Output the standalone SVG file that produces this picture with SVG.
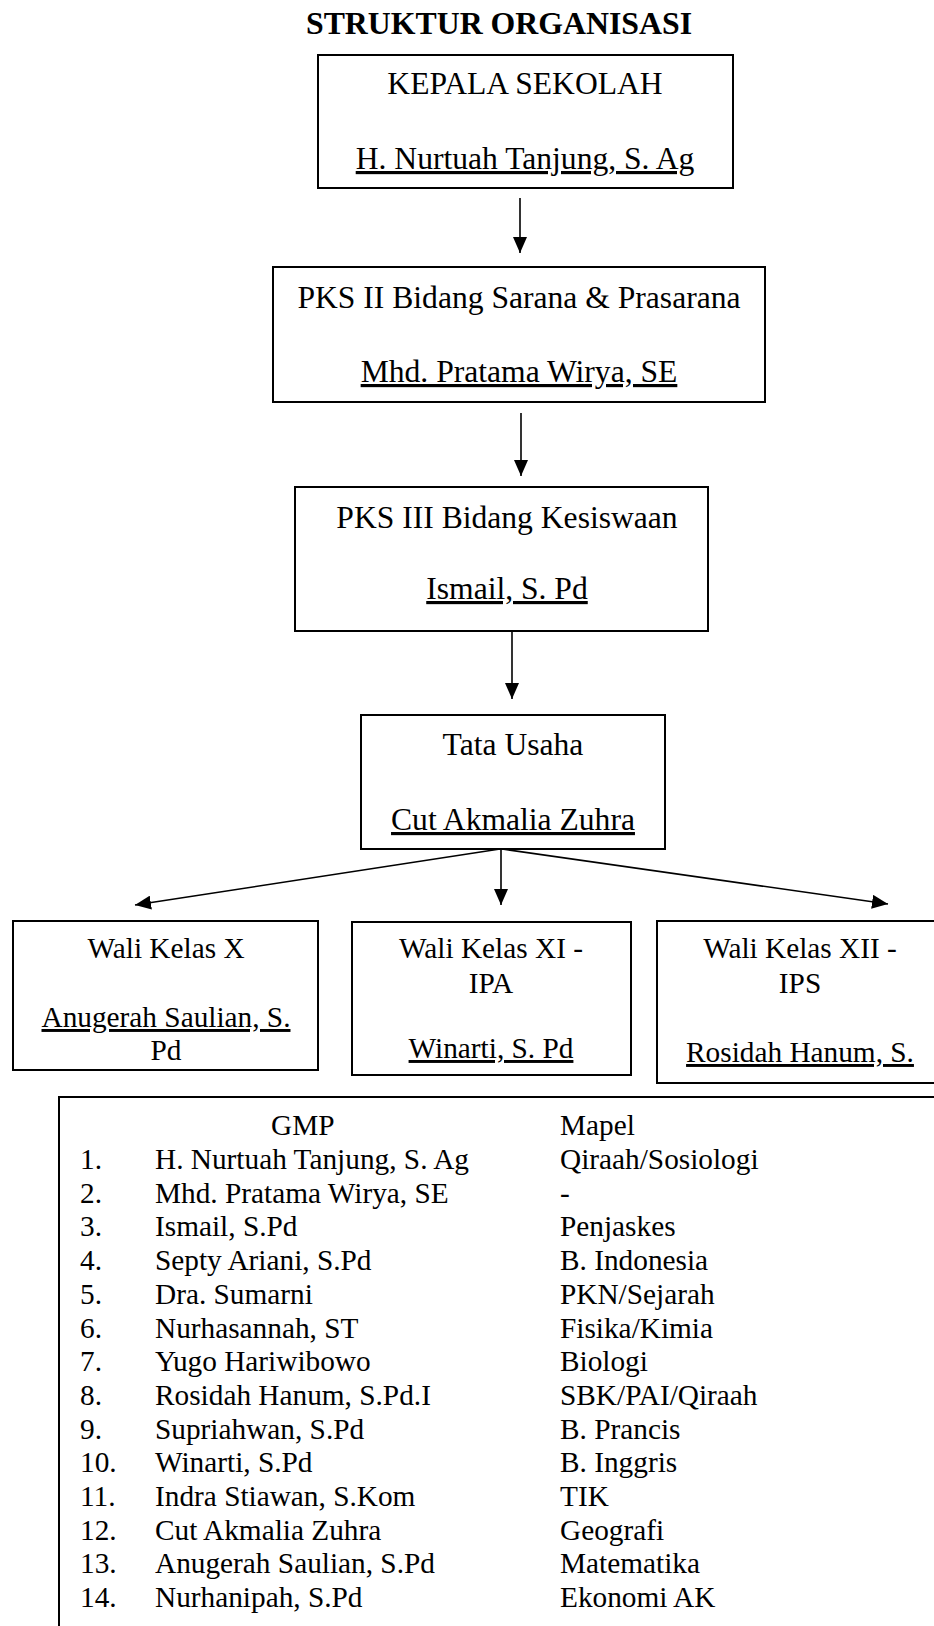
<svg xmlns="http://www.w3.org/2000/svg" width="934" height="1626" viewBox="0 0 934 1626">
<defs>
<style>
text{font-family:"Liberation Serif","Times New Roman",serif;fill:#000}
.t{font-size:31.6px;text-anchor:middle}
.w{font-size:29.3px;text-anchor:middle}
.g{font-size:29.3px}
.u{text-decoration:underline}
.box{fill:#fff;stroke:#000;stroke-width:2}
.c{stroke:#000;stroke-width:1.6;fill:none;marker-end:url(#ah)}
</style>
<marker id="ah" viewBox="0 0 16 14" refX="16" refY="7" markerWidth="16" markerHeight="14" markerUnits="userSpaceOnUse" orient="auto">
<path d="M0,0 L16,7 L0,14 Z" fill="#000"/>
</marker>
</defs>
<rect width="934" height="1626" fill="#fff"/>
<text x="499" y="34" style="font-size:31.8px;font-weight:bold;text-anchor:middle">STRUKTUR ORGANISASI</text>

<g id="connectors">
<line class="c" x1="520" y1="198" x2="520" y2="253"/>
<line class="c" x1="521" y1="413" x2="521" y2="476"/>
<line class="c" x1="512" y1="632" x2="512" y2="699"/>
<line class="c" x1="500" y1="849" x2="135" y2="905"/>
<line class="c" x1="501" y1="849" x2="501" y2="905"/>
<line class="c" x1="502" y1="849" x2="888" y2="904"/>
</g>

<g id="kepala">
<rect class="box" x="318" y="55" width="415" height="133"/>
<text class="t" x="525" y="94">KEPALA SEKOLAH</text>
<text class="t u" x="525" y="169">H. Nurtuah Tanjung, S. Ag</text>
</g>

<g id="pks2">
<rect class="box" x="273" y="267" width="492" height="135"/>
<text class="t" x="519" y="308">PKS II Bidang Sarana &amp; Prasarana</text>
<text class="t u" x="519" y="382">Mhd. Pratama Wirya, SE</text>
</g>

<g id="pks3">
<rect class="box" x="295" y="487" width="413" height="144"/>
<text class="t" x="507" y="528">PKS III Bidang Kesiswaan</text>
<text class="t u" x="507" y="599">Ismail, S. Pd</text>
</g>

<g id="tatausaha">
<rect class="box" x="361" y="715" width="304" height="134"/>
<text class="t" x="513" y="755">Tata Usaha</text>
<text class="t u" x="513" y="830">Cut Akmalia Zuhra</text>
</g>

<g id="walix">
<rect class="box" x="13" y="921" width="305" height="149"/>
<text class="w" x="166" y="958">Wali Kelas X</text>
<text class="w u" x="166" y="1027">Anugerah Saulian, S.</text>
<text class="w" x="166" y="1060">Pd</text>
</g>

<g id="walixi">
<rect class="box" x="352" y="922" width="279" height="153"/>
<text class="w" x="491" y="958">Wali Kelas XI -</text>
<text class="w" x="491" y="993">IPA</text>
<text class="w u" x="491" y="1058">Winarti, S. Pd</text>
</g>

<g id="walixii">
<rect class="box" x="657" y="921" width="290" height="162"/>
<text class="w" x="800" y="958">Wali Kelas XII -</text>
<text class="w" x="800" y="993">IPS</text>
<text class="w u" x="800" y="1062">Rosidah Hanum, S.</text>
</g>

<g id="gmp">
<rect class="box" x="59" y="1097" width="890" height="560"/>
<text class="g" x="271" y="1135">GMP</text>
<text class="g" x="560" y="1135">Mapel</text>
<text class="g" x="80" y="1169">1.</text><text class="g" x="155" y="1169">H. Nurtuah Tanjung, S. Ag</text><text class="g" x="560" y="1169">Qiraah/Sosiologi</text>
<text class="g" x="80" y="1202.7">2.</text><text class="g" x="155" y="1202.7">Mhd. Pratama Wirya, SE</text><text class="g" x="560" y="1202.7">-</text>
<text class="g" x="80" y="1236.4">3.</text><text class="g" x="155" y="1236.4">Ismail, S.Pd</text><text class="g" x="560" y="1236.4">Penjaskes</text>
<text class="g" x="80" y="1270.1">4.</text><text class="g" x="155" y="1270.1">Septy Ariani, S.Pd</text><text class="g" x="560" y="1270.1">B. Indonesia</text>
<text class="g" x="80" y="1303.8">5.</text><text class="g" x="155" y="1303.8">Dra. Sumarni</text><text class="g" x="560" y="1303.8">PKN/Sejarah</text>
<text class="g" x="80" y="1337.5">6.</text><text class="g" x="155" y="1337.5">Nurhasannah, ST</text><text class="g" x="560" y="1337.5">Fisika/Kimia</text>
<text class="g" x="80" y="1371.2">7.</text><text class="g" x="155" y="1371.2">Yugo Hariwibowo</text><text class="g" x="560" y="1371.2">Biologi</text>
<text class="g" x="80" y="1404.9">8.</text><text class="g" x="155" y="1404.9">Rosidah Hanum, S.Pd.I</text><text class="g" x="560" y="1404.9">SBK/PAI/Qiraah</text>
<text class="g" x="80" y="1438.6">9.</text><text class="g" x="155" y="1438.6">Supriahwan, S.Pd</text><text class="g" x="560" y="1438.6">B. Prancis</text>
<text class="g" x="80" y="1472.3">10.</text><text class="g" x="155" y="1472.3">Winarti, S.Pd</text><text class="g" x="560" y="1472.3">B. Inggris</text>
<text class="g" x="80" y="1506">11.</text><text class="g" x="155" y="1506">Indra Stiawan, S.Kom</text><text class="g" x="560" y="1506">TIK</text>
<text class="g" x="80" y="1539.7">12.</text><text class="g" x="155" y="1539.7">Cut Akmalia Zuhra</text><text class="g" x="560" y="1539.7">Geografi</text>
<text class="g" x="80" y="1573.4">13.</text><text class="g" x="155" y="1573.4">Anugerah Saulian, S.Pd</text><text class="g" x="560" y="1573.4">Matematika</text>
<text class="g" x="80" y="1607.1">14.</text><text class="g" x="155" y="1607.1">Nurhanipah, S.Pd</text><text class="g" x="560" y="1607.1">Ekonomi AK</text>
</g>
</svg>
